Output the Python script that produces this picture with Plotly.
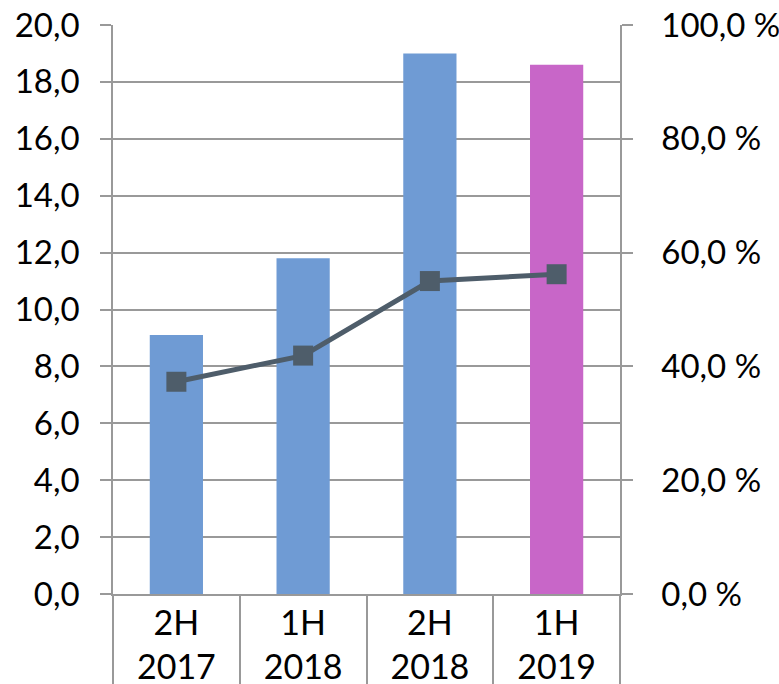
import plotly.graph_objects as go

categories = ["2H<br>2017", "1H<br>2018", "2H<br>2018", "1H<br>2019"]
bar_values = [9.1, 11.8, 19.0, 18.6]
bar_colors = ["#6F9BD4", "#6F9BD4", "#6F9BD4", "#C866C8"]
line_values = [37.3, 41.9, 55.0, 56.2]

left_ticks = [0, 2, 4, 6, 8, 10, 12, 14, 16, 18, 20]
left_labels = ["0,0", "2,0", "4,0", "6,0", "8,0", "10,0", "12,0", "14,0", "16,0", "18,0", "20,0"]
right_ticks = [0, 20, 40, 60, 80, 100]
right_labels = ["0,0 %", "20,0 %", "40,0 %", "60,0 %", "80,0 %", "100,0 %"]
boundaries = [-0.5, 0.5, 1.5, 2.5, 3.5]

GRID = "#999999"
FONT = dict(family="Lato", size=33, color="#000000")
XFONT = dict(family="Lato", size=34, color="#000000")

fig = go.Figure()
fig.add_trace(go.Bar(x=categories, y=bar_values, marker=dict(color=bar_colors, line=dict(width=0)),
                     width=0.42, yaxis="y", showlegend=False))
fig.add_trace(go.Scatter(x=categories, y=line_values, yaxis="y2", mode="lines+markers",
                         line=dict(color="#4E5D6A", width=5),
                         marker=dict(symbol="square", size=20, color="#4E5D6A"),
                         showlegend=False))
# invisible trace to anchor the boundary-tick axis
fig.add_trace(go.Scatter(x=[boundaries[0]], y=[0], xaxis="x2", yaxis="y", mode="markers",
                         marker=dict(opacity=0), showlegend=False, hoverinfo="skip"))

fig.update_layout(
    width=779, height=684,
    margin=dict(l=113, r=159, t=25, b=90),
    plot_bgcolor="white", paper_bgcolor="white",
    font=FONT,
    xaxis=dict(type="category", range=[-0.5, 3.5], showline=True, linecolor=GRID, linewidth=1.5,
               ticks="", showgrid=False, tickfont=XFONT, ticklabelstandoff=-2, automargin=False),
    xaxis2=dict(overlaying="x", anchor="y", side="bottom", range=[-0.5, 3.5], tickmode="array",
                tickvals=boundaries, ticks="outside", ticklen=92, tickcolor=GRID, tickwidth=1.5,
                showticklabels=False, showgrid=False, showline=False, zeroline=False, automargin=False),
    yaxis=dict(range=[0, 20], tickmode="array", tickvals=left_ticks, ticktext=left_labels,
               ticks="outside", ticklen=11, tickcolor=GRID, tickwidth=1.5,
               showgrid=True, gridcolor=GRID, gridwidth=1.5, showline=True, linecolor=GRID,
               linewidth=1.5, zeroline=False, tickfont=FONT, ticklabelstandoff=14, automargin=False),
    yaxis2=dict(range=[0, 100], overlaying="y", side="right", tickmode="array", tickvals=right_ticks,
                ticktext=right_labels, ticks="outside", ticklen=11, tickcolor=GRID, tickwidth=1.5,
                showgrid=False, showline=True, linecolor=GRID, linewidth=1.5, zeroline=False,
                tickfont=FONT, ticklabelstandoff=22, automargin=False),
)

fig.write_html("out.html")
